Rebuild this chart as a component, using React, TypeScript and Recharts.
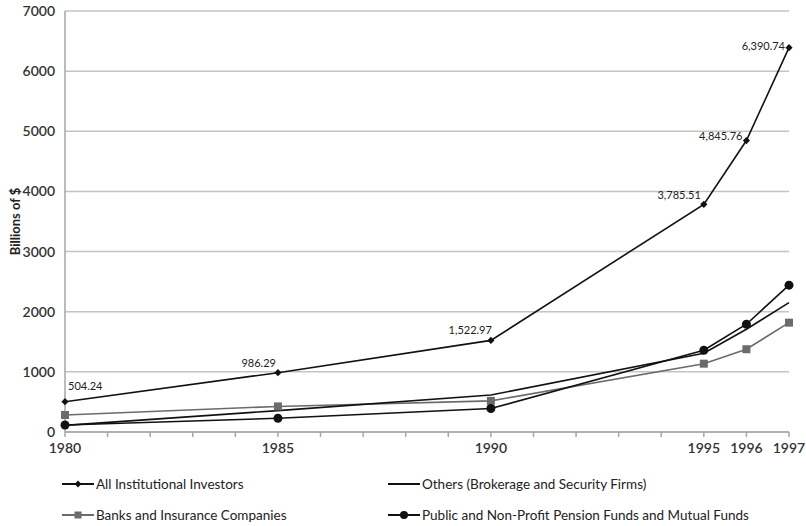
import React from "react";
import { LineChart, Line, XAxis, YAxis, CartesianGrid, Legend, LabelList } from "recharts";

const years = [1980, 1985, 1990, 1995, 1996, 1997];
const allInstitutional = [504.24, 986.29, 1522.97, 3785.51, 4845.76, 6390.74];
const banksInsurance = [283, 425, 518, 1136, 1376, 1818];
const others = [110, 355, 615, 1309, 1708, 2151];
const pensionMutual = [116, 228, 390, 1359, 1792, 2441];
const yTicks = [0, 1000, 2000, 3000, 4000, 5000, 6000, 7000];
const xTicks = [1980, 1981, 1982, 1983, 1984, 1985, 1986, 1987, 1988, 1989, 1990, 1991, 1992, 1993, 1994, 1995, 1996, 1997];
const xLabeled = [1980, 1985, 1990, 1995, 1996, 1997];

const seriesNames = {
  all: "All Institutional Investors",
  banks: "Banks and Insurance Companies",
  others: "Others (Brokerage and Security Firms)",
  pension: "Public and Non-Profit Pension Funds and Mutual Funds",
};

const data = years.map((y, i) => ({
  year: y,
  all: allInstitutional[i],
  banks: banksInsurance[i],
  others: others[i],
  pension: pensionMutual[i],
}));

const FONT = "Lato, 'Open Sans', sans-serif";

const Diamond = (props: any) => {
  const { cx, cy } = props;
  if (cx == null || cy == null) return null;
  const s = 3.6;
  return <polygon points={`${cx},${cy - s} ${cx + s},${cy} ${cx},${cy + s} ${cx - s},${cy}`} fill="#111" />;
};
const Square = (props: any) => {
  const { cx, cy } = props;
  if (cx == null || cy == null) return null;
  return <rect x={cx - 4} y={cy - 4} width={8} height={8} fill="#6b6b6b" />;
};
const Dot = (props: any) => {
  const { cx, cy } = props;
  if (cx == null || cy == null) return null;
  return <circle cx={cx} cy={cy} r={4.5} fill="#111" />;
};

const labelPlacement = [
  { anchor: "start", dx: 3, dy: -14 },
  { anchor: "end", dx: -2, dy: -8 },
  { anchor: "end", dx: 1, dy: -9 },
  { anchor: "end", dx: -3, dy: -8 },
  { anchor: "end", dx: -4, dy: -3 },
  { anchor: "end", dx: -4, dy: 0 },
];

const ValueLabel = (props: any) => {
  const { x, y, value, index } = props;
  const p = labelPlacement[index] || { anchor: "end", dx: -3, dy: -8 };
  const txt = Number(value).toLocaleString("en-US", { minimumFractionDigits: 2, maximumFractionDigits: 2 });
  return (
    <text x={x + p.dx} y={y + p.dy} textAnchor={p.anchor} dominantBaseline="middle" fontSize={11} fontFamily={FONT} fill="#222">
      {txt}
    </text>
  );
};

const LegendIcon = ({ kind }: { kind: string }) => (
  <svg width={32} height={12} style={{ display: "block" }}>
    <line x1={0} y1={6} x2={32} y2={6} stroke={kind === "banks" ? "#6b6b6b" : "#111"} strokeWidth={2} />
    {kind === "all" && <polygon points="16,2.6 19.4,6 16,9.4 12.6,6" fill="#111" />}
    {kind === "banks" && <rect x={12.5} y={2.5} width={7} height={7} fill="#6b6b6b" />}
    {kind === "pension" && <circle cx={16} cy={6} r={4} fill="#111" />}
  </svg>
);

const LegendContent = () => {
  const item = (kind: string, left: number, top: number) => (
    <div style={{ position: "absolute", left, top, display: "flex", alignItems: "center", fontFamily: FONT, fontSize: 13.5, color: "#222", whiteSpace: "nowrap" }}>
      <LegendIcon kind={kind} />
      <span style={{ marginLeft: 2 }}>{(seriesNames as any)[kind]}</span>
    </div>
  );
  return (
    <div style={{ position: "relative", width: 806, height: 64 }}>
      {item("all", 62, 14)}
      {item("others", 388, 14)}
      {item("banks", 62, 45)}
      {item("pension", 388, 45)}
    </div>
  );
};

export default function App() {
  return (
    <div style={{ position: "absolute", left: 0, top: 0, background: "#fff" }}>
      <LineChart width={806} height={526} data={data} margin={{ top: 11, right: 17, left: 0, bottom: 0 }}>
        <CartesianGrid vertical={false} stroke="#c4c4c4" strokeWidth={1.5} />
        <XAxis
          dataKey="year"
          type="number"
          domain={[1980, 1997]}
          ticks={xTicks}
          interval={0}
          tickFormatter={(v: number) => (xLabeled.includes(v) ? String(v) : "")}
          stroke="#a6a6a6"
          strokeWidth={1.5}
          tickSize={5}
          tick={{ fontSize: 14, fontFamily: FONT, fill: "#333", fontWeight: 600, dy: 4 }}
          height={30}
        />
        <YAxis
          domain={[0, 7000]}
          ticks={yTicks}
          interval={0}
          width={65}
          axisLine={{ stroke: "#a6a6a6", strokeWidth: 1.5 }}
          tickLine={false}
          tick={{ fontSize: 14, fontFamily: FONT, fill: "#333", fontWeight: 600, dx: -2 }}
          label={{ value: "Billions of $", angle: -90, position: "insideLeft", offset: 15, style: { fontSize: 13, fontFamily: FONT, fontWeight: 700, fill: "#222", textAnchor: "middle" } }}
        />
        <Legend verticalAlign="bottom" height={64} content={() => <LegendContent />} />
        <Line dataKey="banks" name={seriesNames.banks} stroke="#6b6b6b" strokeWidth={1.6} dot={<Square />} activeDot={false} isAnimationActive={false} />
        <Line dataKey="others" name={seriesNames.others} stroke="#111" strokeWidth={1.6} dot={false} activeDot={false} isAnimationActive={false} />
        <Line dataKey="pension" name={seriesNames.pension} stroke="#111" strokeWidth={1.6} dot={<Dot />} activeDot={false} isAnimationActive={false} />
        <Line dataKey="all" name={seriesNames.all} stroke="#111" strokeWidth={1.6} dot={<Diamond />} activeDot={false} isAnimationActive={false}>
          <LabelList dataKey="all" content={<ValueLabel />} />
        </Line>
      </LineChart>
    </div>
  );
}
